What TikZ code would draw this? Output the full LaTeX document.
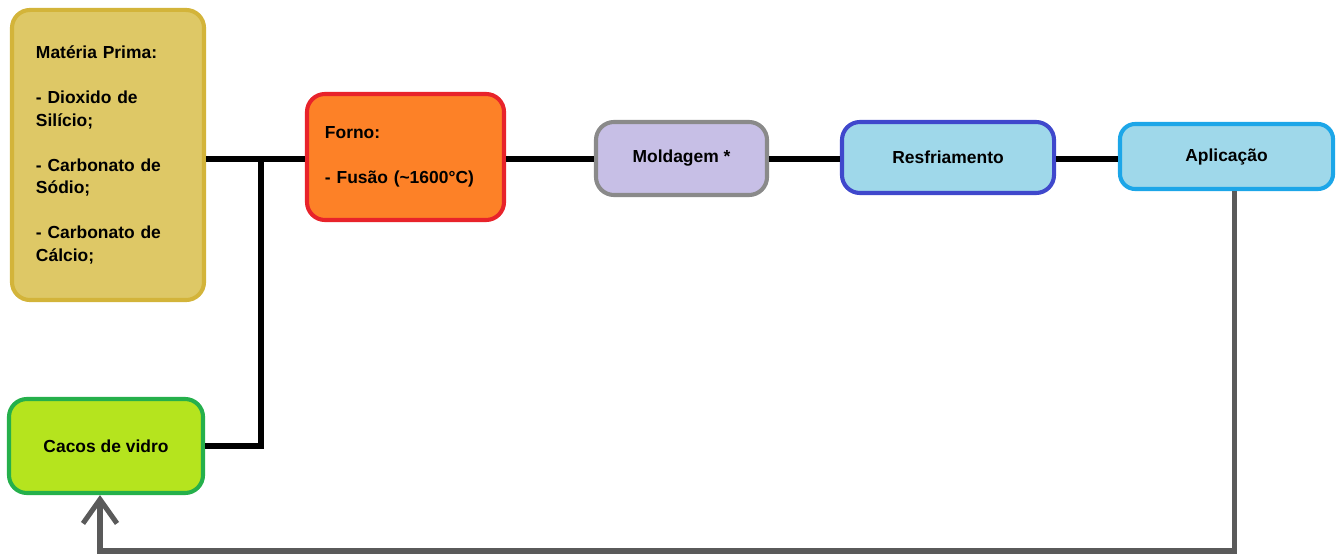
\documentclass[tikz,border=0pt]{standalone}
\usepackage{fontspec}
\setmainfont{Liberation Sans}
\usetikzlibrary{arrows.meta}

\definecolor{ouroFill}{HTML}{DEC866}
\definecolor{ouroLine}{HTML}{D3B43A}
\definecolor{laranja}{HTML}{FD8127}
\definecolor{vermelho}{HTML}{E8232A}
\definecolor{lilas}{HTML}{C7BFE6}
\definecolor{cinza}{HTML}{8A8A8A}
\definecolor{azulClaro}{HTML}{9FD8EA}
\definecolor{indigo}{HTML}{3F48CC}
\definecolor{turquesa}{HTML}{1CA6E8}
\definecolor{lima}{HTML}{B5E41E}
\definecolor{verde}{HTML}{25B04B}
\definecolor{cinzaEsc}{HTML}{5A5A5A}

\tikzset{
	caixa/.style={draw, line width=2.9pt, rounded corners=0.45cm, inner sep=0pt,
		font=\bfseries\fontsize{12.4}{16}\selectfont},
	liga/.style={line width=3.6pt, black},
	volta/.style={line width=3.6pt, cinzaEsc}
}

\begin{document}
\begin{tikzpicture}[x=0.025cm, y=-0.025cm]
		%%%%% START %%%%%
		\useasboundingbox (0, 0) rectangle (1339, 557);
		
		\node[caixa, fill=ouroFill, draw=ouroLine, minimum width=4.8cm, minimum height=7.25cm,
			text width=3.6cm, align=left] (materia) at (108, 155)
			{Matéria Prima:\\[16pt]- Dioxido de\\Silício;\\[16pt]- Carbonato de\\Sódio;\\[16pt]- Carbonato de\\Cálcio;};
		
		\node[caixa, fill=laranja, draw=vermelho, minimum width=4.925cm, minimum height=3.15cm,
			text width=4.025cm, align=left] (forno) at (405.5, 157)
			{Forno:\\[16pt]- Fusão (\textasciitilde1600°C)\\[8pt]};
		
		\node[caixa, fill=lilas, draw=cinza, minimum width=4.275cm, minimum height=1.825cm] (molde) at (681.5, 158.5) {Moldagem *};
		\node[caixa, fill=azulClaro, draw=indigo, minimum width=5.3cm, minimum height=1.775cm] (resf) at (948, 157.5) {Resfriamento};
		\node[caixa, fill=azulClaro, draw=turquesa, minimum width=5.325cm, minimum height=1.625cm,
			rounded corners=0.38cm] (aplic) at (1226.5, 156.5) {Aplicação};
		
		\node[caixa, fill=lima, draw=verde, minimum width=4.85cm, minimum height=2.35cm] (cacos) at (106, 446) {Cacos de vidro};
		
		% linha principal
		\coordinate (juncao) at (261, 159);
		\draw[liga] (materia.east |- juncao) -- (forno.west |- juncao);
		\draw[liga] (juncao) |- (cacos.east);
		\draw[liga] (forno.east |- juncao) -- (molde.west |- juncao);
		\draw[liga] (molde.east |- juncao) -- (resf.west |- juncao);
		\draw[liga] (resf.east |- juncao) -- (aplic.west |- juncao);
		
		% reciclagem
		\coordinate (fundo) at (0, 551);
		\draw[volta, -{Straight Barb[length=6mm, width=8.5mm]}]
			([xshift=0.2cm]aplic.south) -- ([xshift=0.2cm]aplic.south |- fundo)
			-- ([xshift=-0.15cm]cacos.south |- fundo) -- ([xshift=-0.15cm]cacos.south);
		%%%%% END %%%%%
\end{tikzpicture}
\end{document}
